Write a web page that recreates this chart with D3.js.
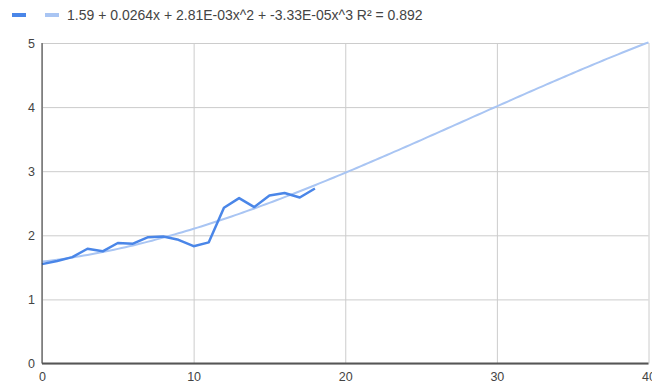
<!DOCTYPE html>
<html>
<head>
<meta charset="utf-8">
<script src="https://cdn.jsdelivr.net/npm/d3@7"></script>
<style>
  html, body { margin: 0; padding: 0; background: #fff; }
  svg { display: block; font-family: "Liberation Sans", Arial, sans-serif; }
</style>
</head>
<body>
<svg id="chart" width="652" height="383"></svg>
<script>
// Observed series: x = 0..18
const xValues = [0, 1, 2, 3, 4, 5, 6, 7, 8, 9, 10, 11, 12, 13, 14, 15, 16, 17, 18];
const yValues = [1.55, 1.60, 1.66, 1.79, 1.75, 1.88, 1.87, 1.97, 1.98, 1.93, 1.83, 1.89, 2.43, 2.58, 2.44, 2.62, 2.66, 2.59, 2.73];

// Cubic trendline coefficients (c0 + c1 x + c2 x^2 + c3 x^3)
const trendCoefficients = [1.59, 0.0264, 2.81e-3, -3.33e-5];
const trendLabel = "1.59 + 0.0264x + 2.81E-03x^2 + -3.33E-05x^3 R\u00B2 = 0.892";

const xTicks = [0, 10, 20, 30, 40];
const yTicks = [0, 1, 2, 3, 4, 5];

const svg = d3.select("#chart");
const margin = { left: 42, right: 652 - 648.5, top: 43, bottom: 383 - 363.5 };
const width = 652, height = 383;

const x = d3.scaleLinear().domain([0, 40]).range([margin.left, width - margin.right]);
const y = d3.scaleLinear().domain([0, 5]).range([height - margin.bottom, margin.top]);

const textColor = "#444";
const gridColor = "#cccccc";
const lineColor = "#4a86e8";
const trendColor = "#a9c5f3";

// Gridlines
svg.append("g")
  .attr("transform", `translate(0,${y(0)})`)
  .call(d3.axisBottom(x).tickValues(xTicks).tickSize(-(y(0) - y(5))).tickFormat(""))
  .call(g => g.select(".domain").remove())
  .call(g => g.selectAll("line").attr("stroke", gridColor));

svg.append("g")
  .attr("transform", `translate(${x(0)},0)`)
  .call(d3.axisLeft(y).tickValues(yTicks).tickSize(-(x(40) - x(0))).tickFormat(""))
  .call(g => g.select(".domain").remove())
  .call(g => g.selectAll("line").attr("stroke", gridColor));

// Tick labels
svg.append("g")
  .attr("transform", `translate(0,${y(0)})`)
  .call(d3.axisBottom(x).tickValues(xTicks).tickSize(0).tickPadding(9).tickFormat(d3.format("d")))
  .call(g => g.select(".domain").remove())
  .call(g => g.selectAll("text").attr("fill", textColor).attr("font-size", 12.5).attr("font-family", "Liberation Sans, Arial, sans-serif"));

svg.append("g")
  .attr("transform", `translate(${x(0)},0)`)
  .call(d3.axisLeft(y).tickValues(yTicks).tickSize(0).tickPadding(7).tickFormat(d3.format("d")))
  .call(g => g.select(".domain").remove())
  .call(g => g.selectAll("text").attr("fill", textColor).attr("font-size", 12.5).attr("font-family", "Liberation Sans, Arial, sans-serif"));

// Trendline sampled along the full x domain
const poly = t => trendCoefficients.reduce((s, c, i) => s + c * Math.pow(t, i), 0);
const trendPts = d3.range(0, 40.001, 0.25).map(t => [t, poly(t)]);
svg.append("path")
  .datum(trendPts)
  .attr("fill", "none")
  .attr("stroke", trendColor)
  .attr("stroke-width", 2)
  .attr("d", d3.line().x(d => x(d[0])).y(d => y(d[1])));

// Data line
svg.append("path")
  .datum(xValues.map((v, i) => [v, yValues[i]]))
  .attr("fill", "none")
  .attr("stroke", lineColor)
  .attr("stroke-width", 2.5)
  .attr("stroke-linejoin", "round")
  .attr("d", d3.line().x(d => x(d[0])).y(d => y(d[1])));

// Axis baselines
svg.append("line")
  .attr("x1", x(0)).attr("x2", x(0)).attr("y1", y(5)).attr("y2", y(0))
  .attr("stroke", "#333").attr("stroke-width", 1);
svg.append("line")
  .attr("x1", x(0)).attr("x2", x(40)).attr("y1", y(0)).attr("y2", y(0))
  .attr("stroke", "#555").attr("stroke-width", 2);

// Legend
const legend = svg.append("g");
legend.append("rect").attr("x", 12).attr("y", 13).attr("width", 14).attr("height", 4).attr("fill", lineColor);
legend.append("rect").attr("x", 45).attr("y", 13).attr("width", 14).attr("height", 4).attr("fill", trendColor);
legend.append("text")
  .attr("x", 67).attr("y", 20)
  .attr("fill", textColor)
  .attr("font-size", 14)
  .text(trendLabel);
</script>
</body>
</html>
